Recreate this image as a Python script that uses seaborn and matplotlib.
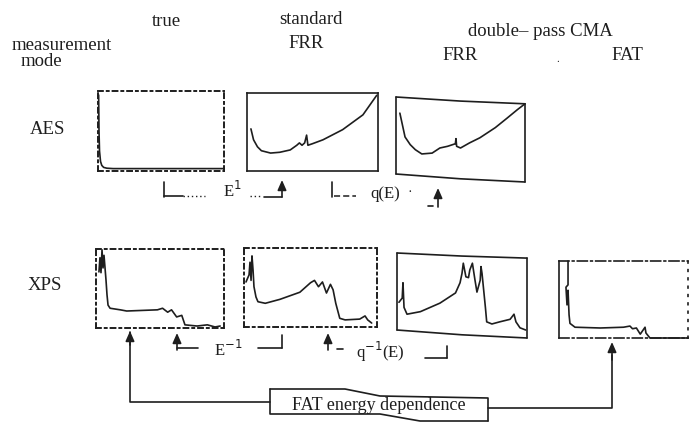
import numpy as np
import pandas as pd
import matplotlib
matplotlib.use("Agg")
import matplotlib.pyplot as plt
import seaborn as sns

# ---------------- data (panel-normalised energy / intensity) ----------------
aes_true_E = [0.005, 0.008, 0.012, 0.02, 0.03, 0.045, 0.07, 0.12, 1.0]
aes_true_I = [0.95, 0.50, 0.25, 0.12, 0.07, 0.045, 0.035, 0.03, 0.03]

aes_std_E = [0.03, 0.05, 0.08, 0.11, 0.18, 0.25, 0.33, 0.38, 0.40, 0.42, 0.44,
             0.455, 0.465, 0.50, 0.58, 0.73, 0.885, 0.99]
aes_std_I = [0.54, 0.40, 0.31, 0.26, 0.23, 0.24, 0.27, 0.33, 0.36, 0.33, 0.36,
             0.46, 0.33, 0.35, 0.40, 0.53, 0.72, 0.97]

aes_dp_E = [0.03, 0.05, 0.07, 0.11, 0.15, 0.20, 0.28, 0.34, 0.40, 0.46, 0.465,
            0.47, 0.50, 0.57, 0.65, 0.77, 0.86, 0.94, 1.0]
aes_dp_I = [0.81, 0.67, 0.53, 0.44, 0.38, 0.33, 0.34, 0.40, 0.42, 0.45, 0.51,
            0.42, 0.40, 0.46, 0.52, 0.64, 0.75, 0.85, 0.92]

xps_true_E = [0.023, 0.031, 0.039, 0.047, 0.055, 0.0625, 0.078, 0.086, 0.094,
              0.11, 0.19, 0.24, 0.48, 0.52, 0.56, 0.59, 0.63, 0.67, 0.695,
              0.79, 0.87, 0.93, 0.97]
xps_true_I = [0.71, 0.89, 0.70, 0.99, 0.76, 0.92, 0.61, 0.42, 0.29,
              0.25, 0.23, 0.215, 0.23, 0.25, 0.20, 0.23, 0.14, 0.16, 0.04,
              0.025, 0.04, 0.013, 0.025]

xps_std_E = [0.015, 0.038, 0.045, 0.053, 0.06, 0.068, 0.075, 0.09, 0.105, 0.16,
             0.27, 0.42, 0.50, 0.53, 0.56, 0.59, 0.62, 0.65, 0.67, 0.69, 0.72,
             0.76, 0.87, 0.91, 0.93, 0.96]
xps_std_I = [0.57, 0.66, 0.82, 0.59, 0.90, 0.72, 0.51, 0.38, 0.32, 0.30,
             0.35, 0.44, 0.56, 0.59, 0.51, 0.57, 0.43, 0.54, 0.47, 0.30, 0.11,
             0.09, 0.10, 0.14, 0.09, 0.05]

xps_dp_E = [0.015, 0.04, 0.046, 0.054, 0.077, 0.18, 0.33, 0.45, 0.485, 0.50,
            0.51, 0.53, 0.55, 0.56, 0.58, 0.60, 0.615, 0.64, 0.646, 0.654,
            0.68, 0.69, 0.73, 0.79, 0.87, 0.90, 0.915, 0.946, 0.99]
xps_dp_I = [0.42, 0.47, 0.65, 0.36, 0.28, 0.31, 0.41, 0.53, 0.65, 0.76,
            0.88, 0.72, 0.71, 0.80, 0.88, 0.68, 0.54, 0.68, 0.84, 0.76,
            0.36, 0.19, 0.165, 0.19, 0.22, 0.28, 0.19, 0.12, 0.094]

xps_fat_E = [0.07, 0.07, 0.054, 0.062, 0.07, 0.078, 0.085, 0.124, 0.32, 0.50,
             0.55, 0.57, 0.60, 0.63, 0.667, 0.674, 0.705, 1.0]
xps_fat_I = [1.0, 0.69, 0.66, 0.43, 0.62, 0.30, 0.19, 0.14, 0.13, 0.14,
             0.155, 0.12, 0.13, 0.05, 0.14, 0.065, 0.0, 0.0]

col_labels = ["true", "standard", "FRR", "double\u2013 pass CMA", "FRR", "FAT"]
row_labels = ["AES", "XPS"]
box_label = "FAT energy dependence"

# ---------------- figure ----------------
sns.set_theme(style="white")
plt.rcParams["font.family"] = ["Liberation Serif", "DejaVu Serif"]
INK = "#1e1e1e"
W, H = 690, 423
fig = plt.figure(figsize=(6.9, 4.23), dpi=100)
fig.patch.set_facecolor("white")

ov = fig.add_axes([0, 0, 1, 1])
ov.set_xlim(0, W)
ov.set_ylim(H, 0)
ov.axis("off")


def panel(x0, y0, x1, y1):
    ax = fig.add_axes([x0 / W, 1 - y1 / H, (x1 - x0) / W, (y1 - y0) / H])
    ax.set_xlim(0, 1)
    ax.set_ylim(0, 1)
    ax.set_xticks([])
    ax.set_yticks([])
    ax.patch.set_alpha(0)
    for s in ax.spines.values():
        s.set_color(INK)
        s.set_linewidth(1.2)
    return ax


def dotted(ax):
    for s in ax.spines.values():
        s.set_linestyle((0, (2.5, 2, 1, 2)))
        s.set_linewidth(1.4)


def slanted(ax, top_r, bot_l):
    for s in ax.spines.values():
        s.set_visible(False)
    kw = dict(color=INK, lw=1.2, clip_on=False, transform=ax.transAxes)
    ax.plot([0, 0.5, 1], [1.0, 1.0 - 0.6 * (1 - top_r), top_r], **kw)
    ax.plot([0, 0.5, 1], [bot_l, bot_l * 0.4, 0.0], **kw)
    ax.plot([0, 0], [bot_l, 1.0], **kw)
    ax.plot([1, 1], [0.0, top_r], **kw)


def curve(ax, E, I):
    df = pd.DataFrame({"E": E, "I": I})
    sns.lineplot(data=df, x="E", y="I", ax=ax, sort=False, estimator=None,
                 color=INK, lw=1.2, clip_on=False)
    ax.set_xlabel("")
    ax.set_ylabel("")


a1 = panel(98, 91, 224, 171); dotted(a1); curve(a1, aes_true_E, aes_true_I)
a2 = panel(247, 93, 378, 171); curve(a2, aes_std_E, aes_std_I)
a3 = panel(396, 97, 525, 182); slanted(a3, 0.92, 0.094); curve(a3, aes_dp_E, aes_dp_I)
b1 = panel(96, 249, 224, 328); dotted(b1); curve(b1, xps_true_E, xps_true_I)
b2 = panel(244, 248, 377, 327); dotted(b2); curve(b2, xps_std_E, xps_std_I)
b3 = panel(397, 253, 527, 338); slanted(b3, 0.94, 0.094); curve(b3, xps_dp_E, xps_dp_I)
b4 = panel(559, 261, 688, 338); curve(b4, xps_fat_E, xps_fat_I)
b4.spines["top"].set_linestyle((0, (6, 2, 1, 2)))
b4.spines["bottom"].set_linestyle((0, (6, 2, 1, 2)))
b4.spines["right"].set_linestyle((0, (1, 4)))

# ---------------- texts ----------------
fs = 13.5
ov.text(166, 21, col_labels[0], ha="center", va="center", fontsize=fs, color=INK)
ov.text(311, 20, col_labels[1], ha="center", va="center", fontsize=fs, color=INK)
ov.text(306, 43, col_labels[2], ha="center", va="center", fontsize=fs, color=INK)
ov.text(540, 31, col_labels[3], ha="center", va="center", fontsize=fs, color=INK)
ov.text(460, 55, col_labels[4], ha="center", va="center", fontsize=fs, color=INK)
ov.text(627, 56, col_labels[5], ha="center", va="center", fontsize=fs, color=INK)
ov.text(62, 45, "measurement", ha="center", va="center", fontsize=fs, color=INK)
ov.text(41, 61, "mode", ha="center", va="center", fontsize=fs, color=INK)
ov.text(558, 60, ".", ha="center", va="center", fontsize=8, color=INK)
ov.text(47, 129, row_labels[0], ha="center", va="center", fontsize=fs, color=INK)
ov.text(45, 285, row_labels[1], ha="center", va="center", fontsize=fs, color=INK)

lk = dict(color=INK, lw=1.2)
ak = dict(arrowstyle="-|>,head_length=0.5,head_width=0.22", color=INK, lw=1.2,
          shrinkA=0, shrinkB=0)

# AES brackets
ov.plot([164, 164], [182, 197], **lk)
ov.plot([164, 183], [196, 196], **lk)
ov.plot([183, 205], [196, 196], color=INK, lw=1.0, ls=(0, (1, 2)))
ov.text(232, 191, "E$^{\\mathrm{1}}$", ha="center", va="center", fontsize=12, color=INK)
ov.plot([250, 262], [196, 196], color=INK, lw=1.0, ls=(0, (1, 2)))
ov.plot([264, 282], [197, 197], **lk)
ov.annotate("", xy=(282, 180), xytext=(282, 197), arrowprops=ak)
ov.plot([332, 332], [182, 197], **lk)
ov.plot([334, 356], [196, 196], color=INK, lw=1.1, ls=(0, (4, 2)))
ov.text(385, 194, "q(E)", ha="center", va="center", fontsize=12, color=INK)
ov.text(410, 193, "\u00b7", ha="center", va="center", fontsize=10, color=INK)
ov.plot([428, 433], [206, 206], **lk)
ov.annotate("", xy=(438, 188), xytext=(438, 207), arrowprops=ak)

# XPS brackets
ov.annotate("", xy=(177, 333), xytext=(177, 350), arrowprops=ak)
ov.plot([177, 198], [348, 348], **lk)
ov.text(228, 350, "E$^{\\mathrm{-1}}$", ha="center", va="center", fontsize=12, color=INK)
ov.plot([258, 282], [348, 348], **lk)
ov.plot([282, 282], [335, 348], **lk)
ov.annotate("", xy=(328, 333), xytext=(328, 350), arrowprops=ak)
ov.plot([337, 343], [349, 349], **lk)
ov.text(380, 352, "q$^{\\mathrm{-1}}$(E)", ha="center", va="center", fontsize=12, color=INK)
ov.plot([425, 447], [358, 358], **lk)
ov.plot([447, 447], [346, 358], **lk)

# FAT energy dependence loop
ov.plot([130, 130, 270], [332, 402, 402], **lk)
ov.annotate("", xy=(130, 331), xytext=(130, 345), arrowprops=ak)
ov.plot([270, 345, 380, 488, 488], [389, 389, 396, 398, 421], **lk)
ov.plot([270, 270, 380, 420, 488], [389, 414, 414, 421, 421], **lk)
ov.text(379, 406, box_label, ha="center", va="center", fontsize=13, color=INK)
ov.plot([488, 612, 612], [408, 408, 355], **lk)
ov.annotate("", xy=(612, 342), xytext=(612, 360), arrowprops=ak)

fig.savefig("out.png", dpi=100, facecolor="white")
